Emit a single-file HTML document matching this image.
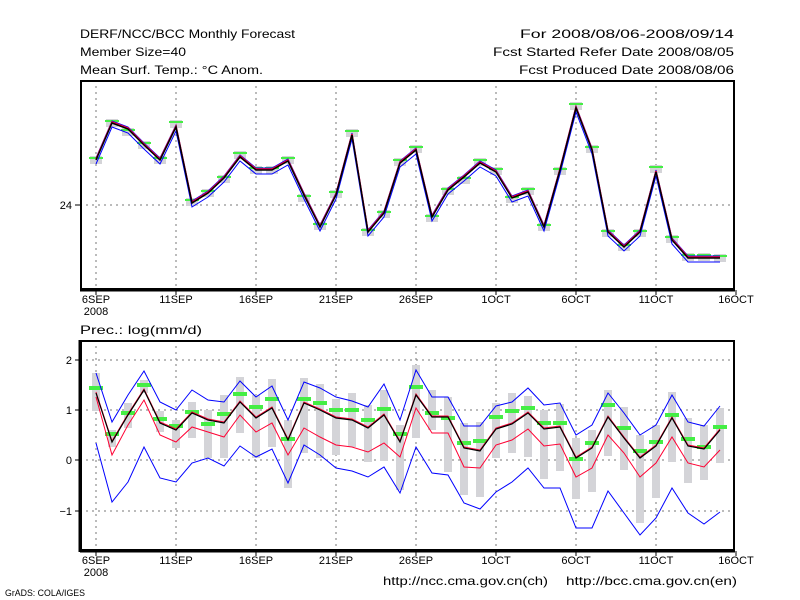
<!DOCTYPE html>
<html><head><meta charset="utf-8">
<style>
html,body{margin:0;padding:0;background:#fff;}
svg{display:block;}
text{font-family:"Liberation Sans",sans-serif;font-size:12px;fill:#000;}
</style></head>
<body>
<svg id="s" width="800" height="600" xmlns="http://www.w3.org/2000/svg">
<rect width="800" height="600" fill="#fff"/>
<text x="80" y="38" textLength="215" lengthAdjust="spacingAndGlyphs">DERF/NCC/BCC Monthly Forecast</text>
<text x="80" y="56" textLength="106" lengthAdjust="spacingAndGlyphs">Member Size=40</text>
<text x="80" y="74" textLength="183" lengthAdjust="spacingAndGlyphs">Mean Surf. Temp.: °C Anom.</text>
<text x="520" y="38" textLength="214" lengthAdjust="spacingAndGlyphs">For 2008/08/06-2008/09/14</text>
<text x="493" y="56" textLength="241" lengthAdjust="spacingAndGlyphs">Fcst Started Refer Date 2008/08/05</text>
<text x="519" y="74" textLength="215" lengthAdjust="spacingAndGlyphs">Fcst Produced Date 2008/08/06</text>
<text x="80" y="334" textLength="122" lengthAdjust="spacingAndGlyphs">Prec.: log(mm/d)</text>
<text x="383" y="585" textLength="165" lengthAdjust="spacingAndGlyphs">http://ncc.cma.gov.cn(ch)</text>
<text x="566" y="585" textLength="171" lengthAdjust="spacingAndGlyphs">http://bcc.cma.gov.cn(en)</text>
<text x="5" y="596" style="font-size:9px" textLength="80" lengthAdjust="spacingAndGlyphs">GrADS: COLA/IGES</text>
<g id="g"></g>
</svg>
<script>
var g=document.getElementById('g');var h='';
function X(k){return 96+16*k;}
function pl(ys,c,w){var p=ys.map(function(y,k){return X(k)+','+y}).join(' ');h+='<polyline points="'+p+'" fill="none" stroke="'+c+'" stroke-width="'+w+'"/>';}
[0,5,10,15,20,25,30,35].forEach(function(k){
 h+='<line x1="'+X(k)+'" y1="80" x2="'+X(k)+'" y2="290" stroke="#777" stroke-dasharray="2,4"/>';
 h+='<line x1="'+X(k)+'" y1="340" x2="'+X(k)+'" y2="551" stroke="#777" stroke-dasharray="2,4"/>';
});
h+='<line x1="80" y1="205" x2="734" y2="205" stroke="#777" stroke-dasharray="2,4"/>';
[360,410,460,511].forEach(function(y){h+='<line x1="80" y1="'+y+'" x2="734" y2="'+y+'" stroke="#777" stroke-dasharray="2,4"/>';});
var tb=[160,123,129,145,160,127,203,193,178,157,170,170,161,195,227,195,135,232,213,163,150,217,190,177,163,172,198,192,227,170,108,150,232,247,232,172,240,258,258,258];
var tg=[158,121,130,143,158,122,200,191,177,153,168,168,158,196,224,192,131,230,212,160,147,216,189,178,160,169,197,189,225,169,104,147,231,245,231,167,237,255,255,256];
tg.forEach(function(y,k){h+='<rect x="'+(X(k)-6)+'" y="'+(y-2)+'" width="12" height="8" fill="#d4d4d8"/>';});
tg.forEach(function(y,k){h+='<rect x="'+(X(k)-7)+'" y="'+(y-1)+'" width="14" height="2" fill="#44ee44"/>';});
pl(tb.map(function(y){return y-2}),'#0000ff',1);
pl(tb.map(function(y){return y+4}),'#0000ff',1);
pl(tb.map(function(y){return y-1}),'#ff0033',1.5);
pl(tb,'#000',1.5);
var bt=[[373,411],[430,447],[403,428],[380,393],[411,432],[420,448],[402,438],[410,458],[395,458],[377,433],[395,458],[379,447],[420,488],[378,453],[384,458],[399,455],[393,447],[405,462],[390,461],[425,490],[365,438],[390,430],[397,472],[423,495],[422,497],[403,458],[393,453],[396,457],[410,479],[404,471],[438,499],[430,492],[390,456],[407,470],[435,523],[425,498],[392,462],[418,483],[425,480],[408,463]];
bt.forEach(function(b,k){h+='<rect x="'+(X(k)-4)+'" y="'+b[0]+'" width="8" height="'+(b[1]-b[0])+'" fill="#d4d4d8"/>';});
var bg=[388,434,413,385,419,426,412,424,414,394,407,399,439,399,403,410,410,420,409,434,387,413,418,443,441,417,411,408,423,423,459,443,405,428,451,442,415,439,447,427];
bg.forEach(function(y,k){h+='<rect x="'+(X(k)-7)+'" y="'+(y-2)+'" width="14" height="4" fill="#44ee44"/>';});
pl([373,422,395,371,402,410,390,400,402,381,397,386,420,382,388,397,401,407,384,420,370,397,397,426,426,406,402,388,405,403,435,425,393,413,435,425,395,422,426,406],'#0000ff',1);
pl([443,502,482,447,478,482,463,458,466,446,457,449,483,445,455,468,471,477,467,493,447,473,475,503,509,492,482,468,488,488,528,528,491,513,535,518,488,513,524,512],'#0000ff',1);
pl([397,455,425,400,435,442,427,432,437,415,432,423,455,428,437,445,447,452,443,457,408,433,433,467,468,445,440,429,446,444,477,468,435,453,477,463,437,463,467,450],'#ff0033',1);
var bb=[393,442,415,390,423,430,413,420,423,402,418,408,440,403,410,418,420,428,415,442,395,417,417,448,451,429,424,413,429,427,458,448,417,438,458,446,418,446,449,430];
pl(bb.map(function(y){return y-1}),'#ff0033',1);
pl(bb,'#000',1.2);
h+='<rect x="81" y="81" width="653" height="208" fill="none" stroke="#000" stroke-width="2"/>';
h+='<rect x="81" y="341" width="653" height="209" fill="none" stroke="#000" stroke-width="2"/>';
h+='<line x1="80" y1="290" x2="735" y2="290" stroke="#000" stroke-width="3"/>';
h+='<line x1="80" y1="551" x2="735" y2="551" stroke="#000" stroke-width="3"/>';
h+='<line x1="80" y1="340" x2="80" y2="552" stroke="#000" stroke-width="3"/>';
var lb=['6SEP','11SEP','16SEP','21SEP','26SEP','1OCT','6OCT','11OCT','16OCT'];
lb.forEach(function(t,i){var x=X(i*5);
 h+='<line x1="'+x+'" y1="290" x2="'+x+'" y2="295" stroke="#000"/>';
 h+='<line x1="'+x+'" y1="551" x2="'+x+'" y2="556" stroke="#000"/>';
 h+='<text x="'+x+'" y="303" text-anchor="middle" style="font-size:11px">'+t+'</text>';
 h+='<text x="'+x+'" y="564" text-anchor="middle" style="font-size:11px">'+t+'</text>';});
h+='<text x="96" y="315" text-anchor="middle" style="font-size:11px">2008</text>';
h+='<text x="96" y="576" text-anchor="middle" style="font-size:11px">2008</text>';
h+='<line x1="75" y1="205" x2="80" y2="205" stroke="#000"/><text x="72" y="209" text-anchor="end" style="font-size:11px">24</text>';
[['2',360],['1',410],['0',460],['−1',511]].forEach(function(a){
 h+='<line x1="75" y1="'+a[1]+'" x2="80" y2="'+a[1]+'" stroke="#000"/><text x="72" y="'+(a[1]+4)+'" text-anchor="end" style="font-size:11px">'+a[0]+'</text>';});
g.innerHTML=h;
</script>
</body></html>
